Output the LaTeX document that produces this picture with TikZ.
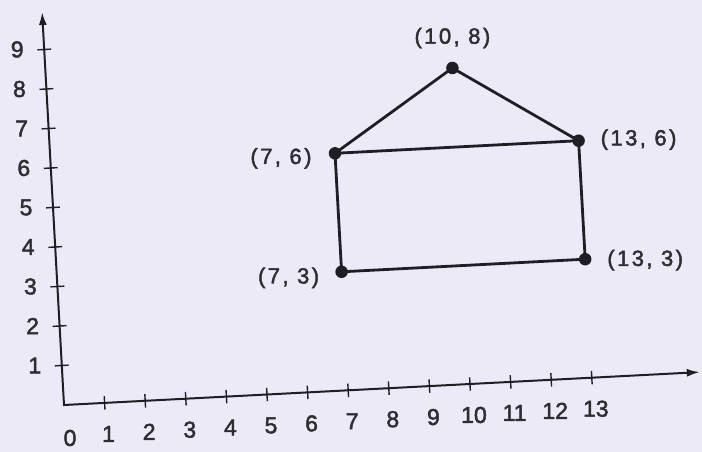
\documentclass[tikz,border=0pt]{standalone}
\usepackage{fontspec}
\setmainfont[FakeBold=2]{Liberation Sans}
\newfontfamily\lblfont[FakeBold=2,LetterSpace=11]{Liberation Sans}
\usetikzlibrary{arrows.meta}
\definecolor{bg}{RGB}{236,234,246}
\definecolor{ink}{RGB}{30,30,36}
\definecolor{txt}{RGB}{45,45,50}
\begin{document}
\begin{tikzpicture}[
  axis/.style={line width=2pt, draw=ink},
  tickmark/.style={line width=1.4pt, draw=ink},
  edge/.style={line width=2.8pt, draw=ink, line cap=round, line join=round},
  dot/.style={circle, fill=ink, inner sep=0pt, minimum size=12.5pt},
  lbl/.style={font=\lblfont\fontsize{22}{22}\selectfont, text=txt, inner sep=0pt},
  num/.style={font=\fontsize{23}{23}\selectfont, text=txt, inner sep=0pt}
]
\fill[bg] (0,0) rectangle (702pt,-452pt);
\useasboundingbox (0,0) rectangle (702pt,-452pt);
\begin{scope}[shift={(64pt,-405pt)}, x={(40.6pt,2.1pt)}, y={(-2.2pt,39.5pt)}]
  \coordinate (O) at (0,0);
  \coordinate (xend) at (15.66,0);
  \coordinate (yend) at (0,9.95);
  \draw[axis,{Latex[length=13pt,width=8pt]}-{Latex[length=13pt,width=8pt]}] (yend) -- (O) -- (xend);
  \foreach \i in {1,...,13} {
    \draw[tickmark] (\i,-0.17) -- (\i,0.17);
    \node[num, xshift=4pt, yshift=-31pt] (xl\i) at (\i,0) {\i};
  }
  \node[num, xshift=6pt, yshift=-33pt] (xl0) at (0,0) {0};
  \foreach \i in {1,...,9} {
    \draw[tickmark] (-0.17,\i) -- (0.17,\i);
    \node[num, xshift=-27pt] (yl\i) at (0,\i) {\i};
  }
  \node[dot] (a) at (7,3) {};
  \node[dot] (b) at (13,3) {};
  \node[dot] (c) at (13,6) {};
  \node[dot] (d) at (7,6) {};
  \node[dot] (e) at (10,8) {};
  \draw[edge] (a.center) -- (b.center) -- (c.center) -- (d.center) -- cycle;
  \draw[edge] (d.center) -- (e.center) -- (c.center);
  \node[lbl, yshift=30pt] (le) at (e) {(10, 8)};
  \node[lbl, xshift=-54pt, yshift=-5pt] (ld) at (d) {(7, 6)};
  \node[lbl, xshift=60pt, yshift=1pt] (lc) at (c) {(13, 6)};
  \node[lbl, xshift=-53pt, yshift=-6pt] (la) at (a) {(7, 3)};
  \node[lbl, xshift=60pt, yshift=-1pt] (lb) at (b) {(13, 3)};
\end{scope}
\end{tikzpicture}
\end{document}
